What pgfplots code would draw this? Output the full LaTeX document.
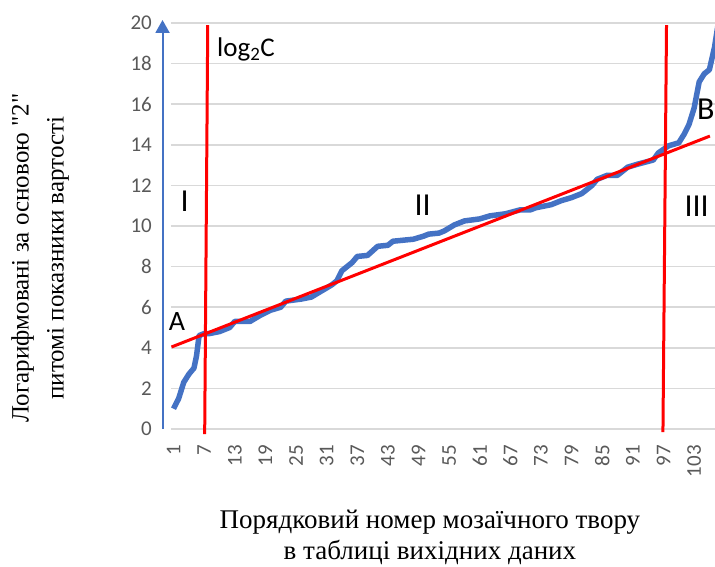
\documentclass[border=0pt]{standalone}
\usepackage{pgfplots}
\pgfplotsset{compat=1.18}
\usepackage{fontspec}
\setmainfont{Liberation Serif}
\newfontfamily\calib{Carlito}
\usetikzlibrary{arrows.meta}
\definecolor{xlblue}{HTML}{4472C4}
\definecolor{tickgray}{HTML}{595959}
\definecolor{gridgray}{HTML}{D9D9D9}
\begin{document}
\begin{tikzpicture}
\begin{axis}[name=ax, at={(0,0)}, anchor=south west,
  scale only axis, width=544pt, height=406pt,
  xmin=0.5, xmax=107.1, ymin=0, ymax=20,
  clip=false,
  axis line style={draw=none},
  major tick length=0pt,
  xtick={1,7,...,103}, ytick={0,2,...,20},
  ymajorgrids, grid style={gridgray, line width=1.5pt},
  /pgf/number format/assume math mode=true,
  ticklabel style={font=\calib\fontsize{21}{24}\selectfont, text=tickgray, inner sep=0pt},
  xticklabel style={rotate=90, anchor=east},
  xticklabel shift=16pt,
  yticklabel shift=19pt,
  xlabel={Порядковий номер мозаїчного твору\\в таблиці вихідних даних},
  ylabel={Логарифмовані за основою {\addfontfeatures{Ligatures=TeXOff}"2"}\\питомі показники вартості},
  xlabel style={font=\fontsize{27}{31}\selectfont, align=center, at={(axis description cs:0.476,-0.268)}, anchor=center},
  ylabel style={font=\fontsize{25}{35}\selectfont, align=center, at={(axis description cs:-0.2408,0.421)}, anchor=center},
]
\addplot[xlblue, line width=5.5pt, line join=round] coordinates {
(1,1.0) (2,1.5) (3,2.3) (4,2.7) (5,3.0) (5.5,3.6) (6,4.6) (7,4.7) (8,4.7) (10,4.8) (11,4.9) (12,5.0) (13,5.3) (14,5.3) (16,5.3) (18,5.6) (20,5.85) (22,6.0) (23,6.3) (26,6.4) (28,6.5) (30,6.8) (32,7.1) (33,7.3) (34,7.8) (35,8.0) (36,8.2) (37,8.5) (39,8.55) (41,9.0) (43,9.05) (44,9.25) (46,9.3) (48,9.35) (50,9.5) (51,9.6) (53,9.65) (54,9.75) (56,10.05) (58,10.25) (61,10.35) (63,10.5) (66,10.6) (69,10.8) (71,10.8) (72,10.9) (75,11.05) (77,11.25) (79,11.4) (81,11.6) (83,12.0) (84,12.3) (86,12.5) (88,12.5) (90,12.9) (92,13.05) (95,13.25) (96,13.6) (98,13.95) (100,14.1) (101,14.5) (102,15.0) (103,15.8) (104,17.1) (105,17.5) (106,17.7) (107,18.8) (108,20.4)
};
\addplot[red, line width=3pt] coordinates {(7.1,-0.25) (7.7,19.9)};
\addplot[red, line width=3pt] coordinates {(96.9,-0.15) (97.6,19.9)};
\addplot[red, line width=3pt] coordinates {(0.6,4.04) (106.1,14.43)};
\draw[xlblue, line width=2pt, -{Triangle[width=14pt,length=13pt]}] (axis cs:-1.16,0) -- (axis cs:-1.16,20.15);
\node[font=\calib\fontsize{27}{30}\selectfont, anchor=west, inner sep=0pt] at (axis cs:9.5,18.7) {log\textsubscript{2}C};
\node[font=\calib\fontsize{28}{30}\selectfont] at (axis cs:1.65,5.29) {A};
\node[font=\calib\fontsize{32}{34}\selectfont] at (axis cs:3.16,11.2) {I};
\node[font=\calib\fontsize{32}{34}\selectfont] at (axis cs:49.8,11.03) {II};
\node[font=\calib\fontsize{32}{34}\selectfont] at (axis cs:103.5,10.95) {III};
\node[font=\calib\fontsize{32}{34}\selectfont, anchor=east, inner sep=0pt] at (axis cs:107.05,15.76) {B};
\end{axis}
\pgfresetboundingbox
\path[use as bounding box] ([shift={(-171pt,-137pt)}]ax.south west) rectangle ([shift={(0pt,23pt)}]ax.north east);
\end{tikzpicture}
\end{document}
